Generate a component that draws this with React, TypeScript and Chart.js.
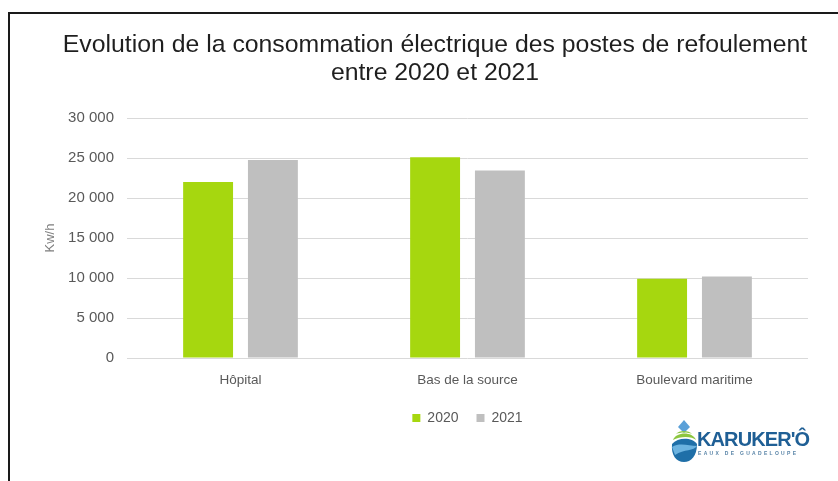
import React, { useEffect, useRef } from "react";
import { Chart, registerables } from "chart.js";

Chart.register(...registerables);

const categories = ["Hôpital", "Bas de la source", "Boulevard maritime"];
const series2020 = [22000, 25100, 9900];
const series2021 = [24750, 23450, 10200];
const seriesLabels = ["2020", "2021"];
const titleLines = [
  "Evolution de la consommation électrique des postes de refoulement",
  "entre 2020 et 2021",
];
const yAxisTitle = "Kw/h";
const yMax = 30000;
const yStep = 5000;

function fmt(v: number): string {
  return String(v).replace(/\B(?=(\d{3})+(?!\d))/g, " ");
}

export default function App() {
  const ref = useRef<HTMLCanvasElement | null>(null);
  useEffect(() => {
    if (!ref.current) return;
    const chart = new Chart(ref.current, {
      type: "bar",
      data: {
        labels: categories,
        datasets: [
          {
            label: seriesLabels[0],
            data: series2020,
            backgroundColor: "#a6d70f",
            barPercentage: 0.77,
            categoryPercentage: 0.571,
          },
          {
            label: seriesLabels[1],
            data: series2021,
            backgroundColor: "#bfbfbf",
            barPercentage: 0.77,
            categoryPercentage: 0.571,
          },
        ],
      },
      options: {
        responsive: false,
        animation: false,
        devicePixelRatio: 1,
        layout: { padding: { top: 31, left: 62, right: 30, bottom: 46 } },
        plugins: {
          title: {
            display: true,
            text: titleLines,
            color: "#1f1f1f",
            font: { family: "'Liberation Sans', Arial", size: 24.8, weight: "normal", lineHeight: 1.13 },
            padding: { top: 0, bottom: 31 },
          },
          legend: {
            position: "bottom",
            fullSize: false,
            labels: {
              color: "#595959",
              font: { family: "'Liberation Sans', Arial", size: 14 },
              boxWidth: 8,
              boxHeight: 8,
              padding: 18,
            },
          },
          tooltip: { enabled: false },
        },
        scales: {
          x: {
            grid: { display: false, drawTicks: false },
            border: { display: false },
            ticks: {
              color: "#595959",
              font: { family: "'Liberation Sans', Arial", size: 13.5 },
              padding: 14,
            },
            afterFit: (s: any) => {
              s.height = 35;
            },
          },
          y: {
            min: 0,
            max: yMax,
            ticks: {
              stepSize: yStep,
              color: "#595959",
              font: { family: "'Liberation Sans', Arial", size: 15 },
              padding: 13,
              callback: (v: any) => fmt(Number(v)),
            },
            grid: { color: "#d9d9d9", drawTicks: false },
            border: { display: false },
            title: {
              display: true,
              text: yAxisTitle,
              color: "#7f7f7f",
              font: { family: "'Liberation Sans', Arial", size: 13 },
              padding: { top: -19, bottom: 0 },
            },
            afterFit: (s: any) => {
              s.width = 65;
            },
          },
        },
      },
    });
    return () => chart.destroy();
  }, []);

  return (
    <div style={{ position: "fixed", left: 0, top: 0, width: 838, height: 481, background: "#fff", overflow: "hidden" }}>
      <canvas ref={ref} width={838} height={481} style={{ position: "absolute", left: 0, top: 0 }} />
      <div
        style={{
          position: "absolute",
          left: 8,
          top: 12,
          width: 860,
          height: 500,
          borderLeft: "2px solid #1a1a1a",
          borderTop: "2px solid #1a1a1a",
          pointerEvents: "none",
        }}
      />
      <div style={{ position: "absolute", left: 670, top: 418, width: 160, height: 52 }}>
        <svg width="28" height="44" viewBox="0 0 28 44" style={{ position: "absolute", left: 0, top: 2 }}>
          <path d="M14 0 L20 7 L14 13 L8 7 Z" fill="#5aa0d8" />
          <path d="M3 20 C6 12 22 11 26 20 C22 16 10 16 3 20 Z" fill="#8cc63f" />
          <path d="M6 14 C9 10 19 10 22 14 C18 12 10 12 6 14 Z" fill="#8cc63f" />
          <path d="M2 24 C8 17 22 17 27 24 C27 36 21 42 14 42 C6 42 1 35 2 24 Z" fill="#1f6fa8" />
          <path d="M2 27 C10 22 19 26 27 26 C24 31 14 29 5 35 Z" fill="#6cb3e0" />
        </svg>
        <div
          style={{
            position: "absolute",
            left: 27,
            top: 10,
            fontFamily: "'Liberation Sans', Arial",
            fontWeight: "bold",
            fontSize: 20,
            lineHeight: "22px",
            color: "#1f5f95",
            whiteSpace: "nowrap",
            letterSpacing: -0.9,
          }}
        >
          KARUKER'Ô
        </div>
        <div
          style={{
            position: "absolute",
            left: 28,
            top: 32,
            fontFamily: "'Liberation Sans', Arial",
            fontWeight: "bold",
            fontSize: 5,
            color: "#5a85a8",
            whiteSpace: "nowrap",
            letterSpacing: 2.3,
          }}
        >
          EAUX DE GUADELOUPE
        </div>
      </div>
    </div>
  );
}
